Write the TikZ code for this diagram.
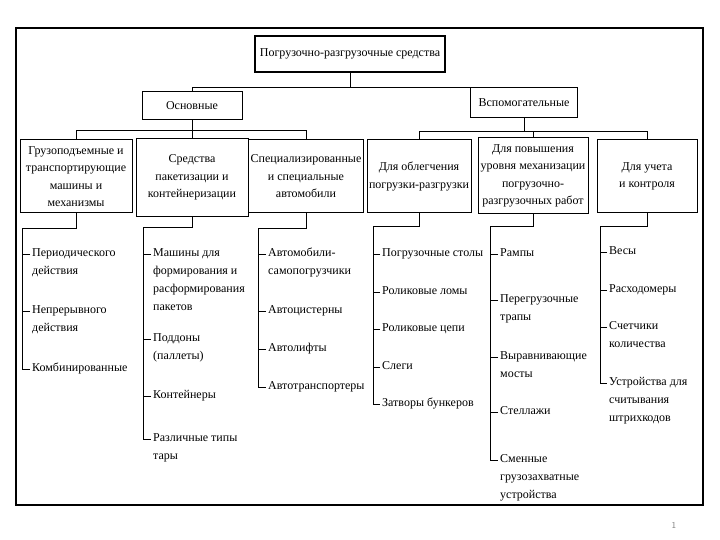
\documentclass[tikz,border=0pt]{standalone}
\usepackage{fontspec}
\setmainfont{Liberation Serif}
\usetikzlibrary{positioning}
\newcommand{\toplines}[1]{\begin{tabular}[t]{@{}l@{}}#1\end{tabular}}

\begin{document}
\begin{tikzpicture}[
      x=1pt, y=1pt,
      catbox/.style={draw, line width=1pt, align=center, inner sep=2pt,
                     font=\fontsize{12}{17.5}\selectfont},
      item/.style={anchor=mid west, inner sep=0pt,
                   font=\fontsize{12}{18}\selectfont},
      link/.style={line width=1pt},
    ]
      \useasboundingbox (0,0) rectangle (720,-540);
      \draw[line width=2.2pt] (16,-28) rectangle (703,-505);

      % top levels
      \node[catbox, line width=1.8pt, minimum width=190, minimum height=36] (root) at (350,-54) {Погрузочно-разгрузочные средства};
      \node[catbox, minimum width=100, minimum height=28] (main) at (192,-106) {Основные};
      \node[catbox, minimum width=107, minimum height=30] (aux) at (524,-103) {Вспомогательные};

      \node[catbox, minimum width=112, minimum height=73] (lift) at (76,-176.5) {Грузоподъемные и\\транспортирующие\\машины и\\механизмы};
      \node[catbox, minimum width=112, minimum height=78] (pack) at (192,-177.5) {Средства\\пакетизации и\\контейнеризации};
      \node[catbox, minimum width=108, minimum height=73] (auto) at (306,-176.5) {Специализированные\\и специальные\\автомобили};
      \node[catbox, minimum width=102, minimum height=73] (ease) at (419,-176.5) {Для облегчения\\погрузки-разгрузки};
      \node[catbox, minimum width=110, minimum height=76] (mech) at (533,-176) {Для повышения\\уровня механизации\\погрузочно-\\разгрузочных работ};
      \node[catbox, minimum width=100, minimum height=73] (count) at (647,-176.5) {Для учета\\и контроля};

      \draw[link] (root.south) -- ++(0,-15) coordinate (fork) -| (main.north);
      \draw[link] (fork) -| (aux.north);
      \draw[link] (main.south) -- ++(0,-10) coordinate (forkmain) -| (lift.north);
      \draw[link] (forkmain) -| (auto.north);
      \draw[link] (forkmain) -- (pack.north);
      \draw[link] (aux.south) -- ++(0,-13) coordinate (forkaux) -| (ease.north);
      \draw[link] (forkaux) -| (count.north);
      \draw[link] (forkaux -| mech.north) -- (mech.north);

      % lists
      \node[item] (lift1) at (32,-254) {\toplines{Периодического\\действия}};
      \node[item] (lift2) at (32,-311) {\toplines{Непрерывного\\действия}};
      \node[item] (lift3) at (32,-369) {Комбинированные};

      \node[item] (pack1) at (153,-254) {\toplines{Машины для\\формирования и\\расформирования\\пакетов}};
      \node[item] (pack2) at (153,-339) {\toplines{Поддоны\\(паллеты)}};
      \node[item] (pack3) at (153,-396) {Контейнеры};
      \node[item] (pack4) at (153,-439) {\toplines{Различные типы\\тары}};

      \node[item] (auto1) at (268,-254) {\toplines{Автомобили-\\самопогрузчики}};
      \node[item] (auto2) at (268,-311) {Автоцистерны};
      \node[item] (auto3) at (268,-349) {Автолифты};
      \node[item] (auto4) at (268,-387) {Автотранспортеры};

      \node[item] (ease1) at (382,-254) {Погрузочные столы};
      \node[item] (ease2) at (382,-292) {Роликовые ломы};
      \node[item] (ease3) at (382,-329) {Роликовые цепи};
      \node[item] (ease4) at (382,-367) {Слеги};
      \node[item] (ease5) at (382,-404) {Затворы бункеров};

      \node[item] (mech1) at (500,-254) {Рампы};
      \node[item] (mech2) at (500,-300) {\toplines{Перегрузочные\\трапы}};
      \node[item] (mech3) at (500,-357) {\toplines{Выравнивающие\\мосты}};
      \node[item] (mech4) at (500,-412) {Стеллажи};
      \node[item] (mech5) at (500,-460) {\toplines{Сменные\\грузозахватные\\устройства}};

      \node[item] (count1) at (609,-252) {Весы};
      \node[item] (count2) at (609,-290) {Расходомеры};
      \node[item] (count3) at (609,-327) {\toplines{Счетчики\\количества}};
      \node[item] (count4) at (609,-383) {\toplines{Устройства для\\считывания\\штрихкодов}};

      \draw[link] (lift.south) -- ++(0,-15) -| ([xshift=-10pt]lift3.mid west) -- ([xshift=-2pt]lift3.mid west);
      \draw[link] (pack.south) -- ++(0,-11) -| ([xshift=-10pt]pack4.mid west) -- ([xshift=-2pt]pack4.mid west);
      \draw[link] (auto.south) -- ++(0,-15) -| ([xshift=-10pt]auto4.mid west) -- ([xshift=-2pt]auto4.mid west);
      \draw[link] (ease.south) -- ++(0,-13) -| ([xshift=-9pt]ease5.mid west) -- ([xshift=-2pt]ease5.mid west);
      \draw[link] (mech.south) -- ++(0,-12) -| ([xshift=-10pt]mech5.mid west) -- ([xshift=-2pt]mech5.mid west);
      \draw[link] (count.south) -- ++(0,-13) -| ([xshift=-9pt]count4.mid west) -- ([xshift=-2pt]count4.mid west);

      \foreach \n/\d in {lift1/10,lift2/10,pack1/10,pack2/10,pack3/10,auto1/10,auto2/10,auto3/10,
                      ease1/9,ease2/9,ease3/9,ease4/9,mech1/10,mech2/10,mech3/10,mech4/10,
                      count1/9,count2/9,count3/9}
        \draw[link] ([xshift=-2pt]\n.mid west) -- ([xshift=-\d pt]\n.mid west);

      \node[font=\sffamily\small, text=gray] (pageno) at (674,-525) {1};
    \end{tikzpicture}
\end{document}
